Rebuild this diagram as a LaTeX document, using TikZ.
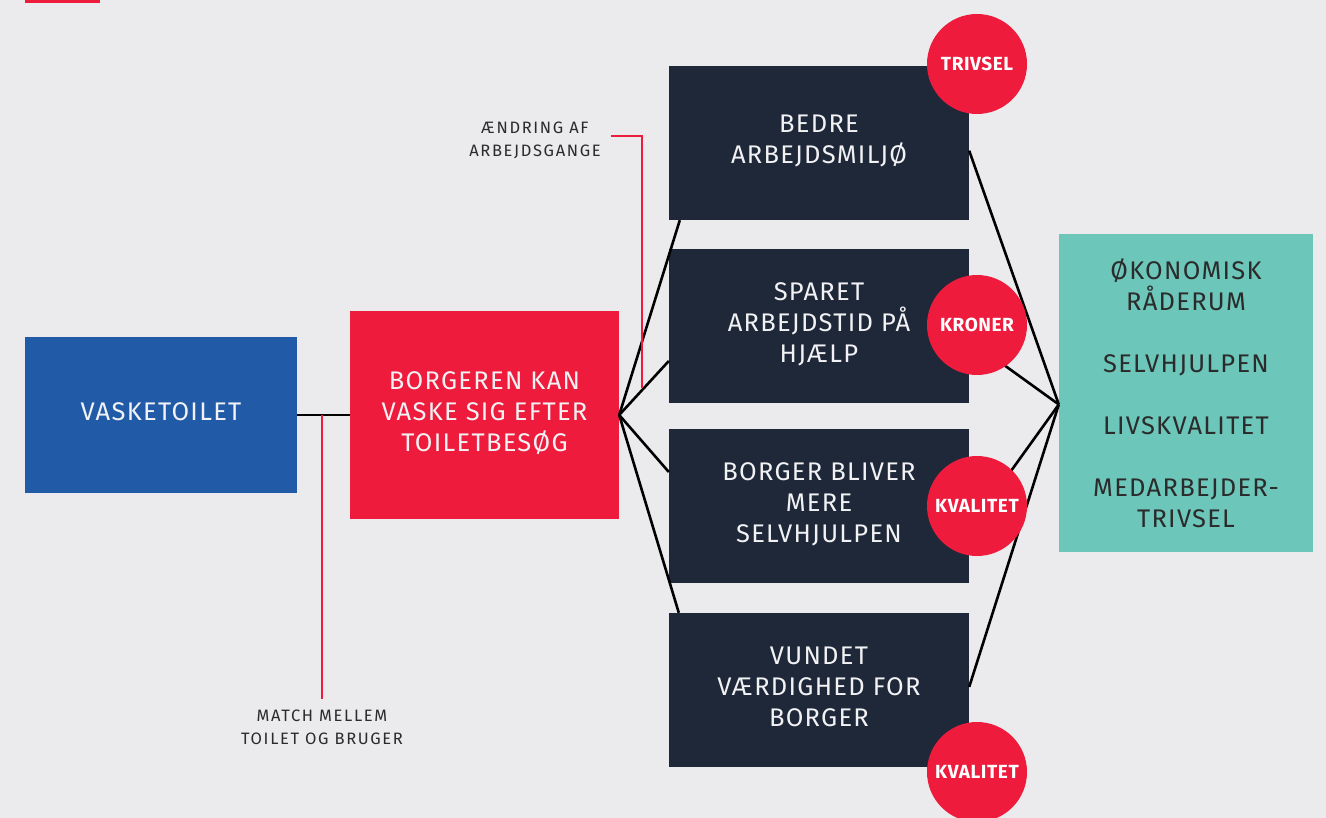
\documentclass[tikz,border=0pt]{standalone}
\usepackage{fontspec}
\setmainfont{Fira Sans}
\newfontfamily\boxfont{Fira Sans}[LetterSpace=5]
\newfontfamily\notefont{Fira Sans}[LetterSpace=10]
\newfontfamily\badgefont{Fira Sans Bold}[LetterSpace=3]
\usetikzlibrary{calc}
\definecolor{bg}{HTML}{EBEBED}
\definecolor{accent}{HTML}{EE1B3C}
\definecolor{blueb}{HTML}{215BA8}
\definecolor{navy}{HTML}{1E2839}
\definecolor{mint}{HTML}{6CC7BA}
\definecolor{ink}{HTML}{2B2B2B}
\definecolor{paper}{HTML}{F2F2F4}
\tikzset{
  boxtext/.style={font=\boxfont\fontsize{25.5}{31}\selectfont, align=center, inner sep=0pt},
  block/.style={boxtext, text=paper, minimum width=#1, text depth=7pt},
  navybox/.style={block=300pt, fill=navy, minimum height=154pt},
  badge/.style={circle, fill=accent, minimum size=100pt, inner sep=0pt,
    text=white, font=\badgefont\fontsize{19}{22}\selectfont},
  link/.style={line width=2.6pt, black},
  note/.style={line width=2.2pt, accent},
  notetext/.style={font=\notefont\fontsize{16.5}{23}\selectfont, text=ink, align=center, inner sep=0pt}
}
\begin{document}
\begin{tikzpicture}[x=1pt,y=-1pt]
\fill[bg] (0,0) rectangle (1326,818);
\useasboundingbox (0,0) rectangle (1326,818);
\fill[accent] (25,0) rectangle (100,3);

% main chain
\node[block=272pt, fill=blueb, minimum height=156pt] (vask) at (161,415) {VASKETOILET};
\node[block=269pt, fill=accent, minimum height=208pt] (borg) at (484.5,415)
  {BORGEREN KAN\\VASKE SIG EFTER\\TOILETBESØG};

% outcomes
\node[navybox] (b1) at (819,143) {BEDRE\\ARBEJDSMILJØ};
\node[navybox] (b2) at (819,326) {SPARET\\ARBEJDSTID PÅ\\HJÆLP};
\node[navybox] (b3) at (819,506) {BORGER BLIVER\\MERE\\SELVHJULPEN};
\node[navybox] (b4) at (819,690) {VUNDET\\VÆRDIGHED FOR\\BORGER};

% effects
\node[boxtext, text=ink, fill=mint, minimum width=254pt, minimum height=318pt] (eff) at (1186,393)
  {ØKONOMISK\\RÅDERUM\\[31pt]SELVHJULPEN\\[31pt]LIVSKVALITET\\[31pt]MEDARBEJDER-\\TRIVSEL};

% connectors
\draw[link] (vask.east) -- (borg.west);
\coordinate (hub) at ($(eff.north west)!0.536!(eff.south west)$);
\draw[link] (borg.east) -- ($(b1.south west)+(11,0)$);
\draw[link] (borg.east) -- ($(b2.west)+(0,35)$);
\draw[link] (borg.east) -- ($(b3.west)+(0,-34)$);
\draw[link] (borg.east) -- ($(b4.north west)+(10,0)$);
\draw[link] ($(b1.north east)!0.55!(b1.south east)$) -- (hub);
\draw[link] ($(b2.north east)!0.59!(b2.south east)$) -- (hub);
\draw[link] ($(b3.north east)!0.65!(b3.south east)$) -- (hub);
\draw[link] ($(b4.north east)!0.48!(b4.south east)$) -- (hub);

% annotations
\coordinate (matchtop) at ($(vask.east)!0.47!(borg.west)$);
\node[notetext, anchor=north] (match) at (322,710) {MATCH MELLEM\\TOILET OG BRUGER};
\draw[note] (matchtop) -- ++(0,284);
\node[notetext] (aend) at (535,140) {ÆNDRING AF\\ARBEJDSGANGE};
\coordinate (aendend) at (642,388);
\draw[note] (611,136) -| (aendend);

% badges
\node[badge] (t1) at (977,64) {TRIVSEL};
\node[badge] (t2) at (977,325) {KRONER};
\node[badge] (t3) at (977,506) {KVALITET};
\node[badge] (t4) at (977,772) {KVALITET};
\end{tikzpicture}
\end{document}
